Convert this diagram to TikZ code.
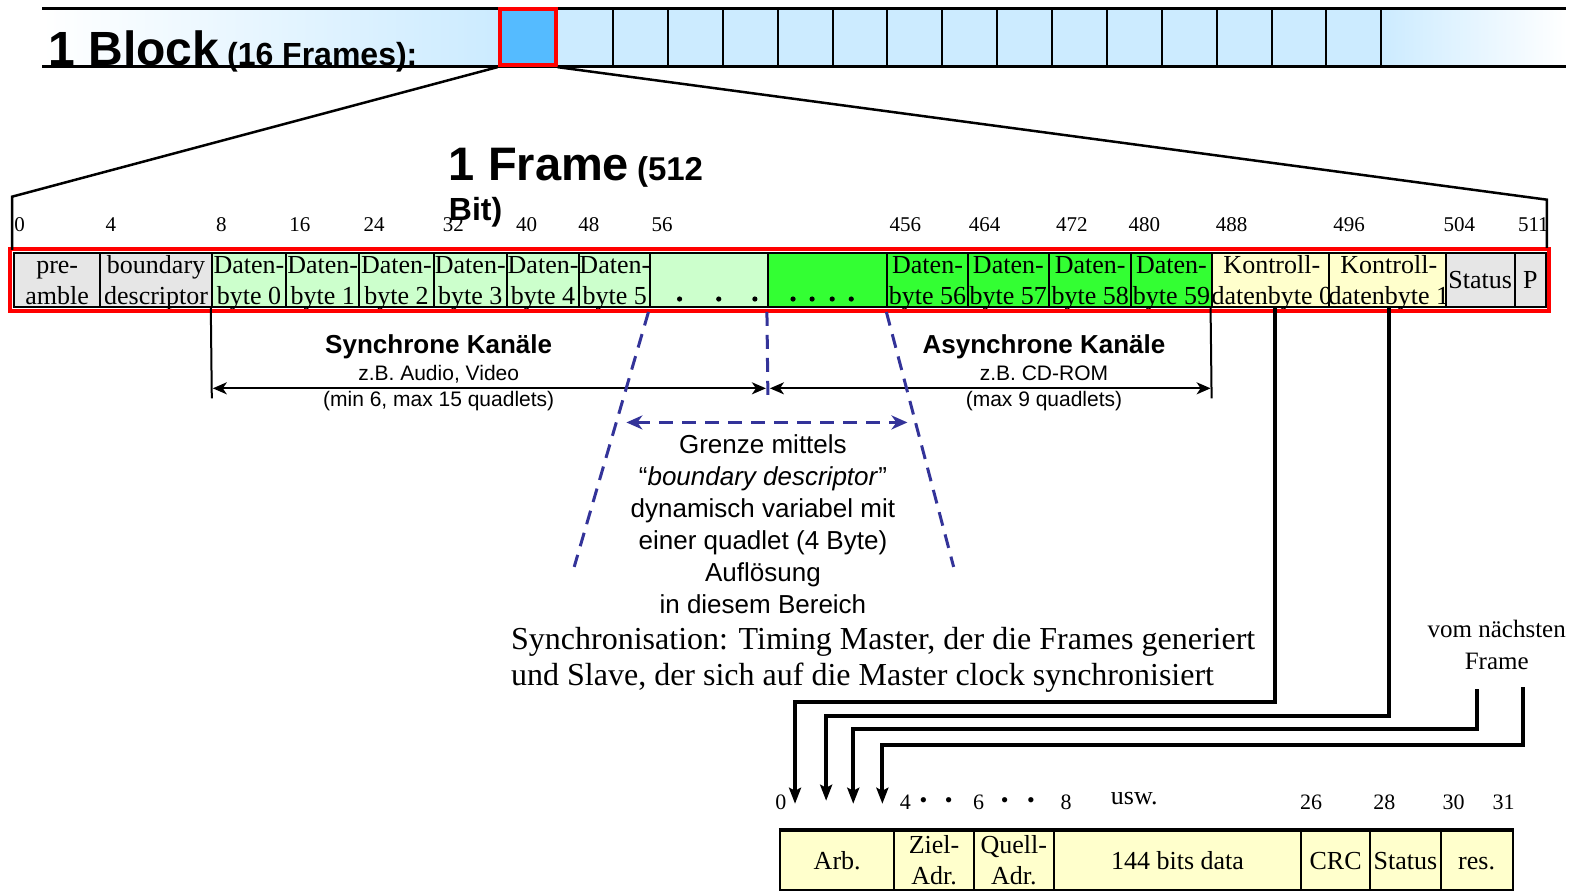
\documentclass[tikz,border=0pt]{standalone}
\usepackage{fontspec}
\setmainfont{Liberation Serif}
\newfontfamily\arial{Liberation Sans}
\usetikzlibrary{arrows.meta,calc}
\definecolor{cgray}{HTML}{E6E6E6}
\definecolor{lgreen}{HTML}{CCFFCC}
\definecolor{bgreen}{HTML}{33FF33}
\definecolor{lyellow}{HTML}{FFFFCC}
\definecolor{blockblue}{HTML}{CCEBFF}
\definecolor{boxblue}{HTML}{55BBFF}
\definecolor{dblue}{HTML}{333399}
\newcommand\fcell[5]{%
  \pgfmathsetmacro\cx{(#2+#3)/2}\pgfmathsetmacro\cw{1.0038*(#3-#2)}%
  \node[fcellstyle, fill=#4, minimum width=\cw pt] (#1) at (\cx,279) {\vphantom{Ab}#5};}
\newcommand\bcell[4]{%
  \pgfmathsetmacro\cx{(#2+#3)/2}\pgfmathsetmacro\cw{1.0038*(#3-#2)}%
  \node[bcellstyle, minimum width=\cw pt] (#1) at (\cx,857.5) {\vphantom{Ab}#4};}
\tikzset{
  fcellstyle/.style={draw=black, line width=2pt, minimum height=54pt, inner sep=0pt, align=center,
    text depth=0pt, font=\fontsize{26}{31}\selectfont},
  bcellstyle/.style={draw=black, line width=2pt, fill=lyellow, minimum height=59pt, inner sep=0pt, align=center,
    text depth=0pt, font=\fontsize{26}{31}\selectfont},
  bitnum/.style={anchor=base west, inner sep=0pt, font=\fontsize{21}{21}\selectfont},
  botnum/.style={inner sep=0pt, font=\fontsize{22}{22}\selectfont},
  bluedash/.style={draw=dblue, line width=3pt, dash pattern=on 14pt off 9pt},
  thickarr/.style={line width=4pt, -{Stealth[length=16pt,width=12pt,inset=3pt]}},
  dimarr/.style={line width=2pt, {Stealth[length=14pt,width=12pt,inset=4pt]}-{Stealth[length=14pt,width=12pt,inset=4pt]}},
}
\begin{document}
\begin{tikzpicture}[x=1.0038pt,y=-1.0034pt]
\useasboundingbox (0,0) rectangle (1568,887);
% ---------- block bar
\shade[left color=white, right color=blockblue] (42,8) rectangle (496,66);
\fill[blockblue] (556,8) rectangle (1376,66);
\shade[left color=blockblue, right color=white] (1376,8) rectangle (1560,66);
\draw[line width=3pt] (42,8) -- (1560,8);
\draw[line width=3pt] (42,66) -- (1560,66);
\foreach \i in {1,...,15}{
  \draw[line width=2pt] ({556+54.67*\i},8) -- ({556+54.67*\i},66);
}
\node[draw=red, line width=4pt, fill=boxblue, minimum width=56pt, minimum height=56pt, inner sep=0pt] (blk) at (525.5,37) {};
\node[anchor=base west, inner sep=0pt] (blocktitle) at (48,65)
  {\arial\bfseries\fontsize{48}{48}\selectfont 1 Block\,{\fontsize{32}{32}\selectfont (16 Frames):}};
% ---------- frame title
\node[anchor=base west, inner sep=0pt] (frametitle) at (447,180)
  {\arial\bfseries\fontsize{47}{47}\selectfont 1 Frame\,{\fontsize{33}{33}\selectfont (512}};
\node[anchor=base west, inner sep=0pt] (frametitle2) at (447,220)
  {\arial\bfseries\fontsize{32}{32}\selectfont Bit)};
% ---------- bit numbers
\foreach \x/\t in {14/0,105/4,215/8,288/16,362/24,441/32,514/40,576/48,649/56,886/456,965/464,1052/472,1124/480,1211/488,1328/496,1438/504,1512/511}{
  \node[bitnum] (bn\t) at (\x,231) {\t};
}
% ---------- frame cells
\fcell{pre}{14}{100}{cgray}{pre-\\amble}
\fcell{bd}{100}{211}{cgray}{boundary\\descriptor}
\fcell{b0}{211}{285}{lgreen}{Daten-\\byte 0}
\fcell{b1}{285}{358}{lgreen}{Daten-\\byte 1}
\fcell{b2}{358}{432}{lgreen}{Daten-\\byte 2}
\fcell{b3}{432}{505}{lgreen}{Daten-\\byte 3}
\fcell{b4}{505}{577}{lgreen}{Daten-\\byte 4}
\fcell{b5}{577}{648}{lgreen}{Daten-\\byte 5}
\fcell{da}{648}{765}{lgreen}{}
\fcell{db}{765}{884}{bgreen}{}
\fcell{b56}{884}{964}{bgreen}{Daten-\\byte 56}
\fcell{b57}{964}{1045}{bgreen}{Daten-\\byte 57}
\fcell{b58}{1045}{1127}{bgreen}{Daten-\\byte 58}
\fcell{b59}{1127}{1207}{bgreen}{Daten-\\byte 59}
\fcell{k0}{1207}{1327}{lyellow}{Kontroll-\\datenbyte 0}
\fcell{k1}{1327}{1440}{lyellow}{Kontroll-\\datenbyte 1}
\fcell{st}{1440}{1509}{cgray}{Status}
\fcell{p}{1509}{1540}{cgray}{P}
\foreach \x in {677,716,752}{\fill (\x,298) circle (2.6pt);}
\foreach \x in {790,809,829,848}{\fill (\x,298) circle (2.6pt);}
\draw[red, line width=4pt] (10,248) rectangle (1543,310);
% ---------- zoom lines
\draw[line width=2.5pt] (blk.south west) -- (12,196) -- (12,249);
\draw[line width=2.5pt] (blk.south east) -- (1541,199) -- (1541,247);
% ---------- channel dimension
\coordinate (sl) at (211,397);
\coordinate (sr) at (1207,397);
\coordinate (ml) at (212,387);
\coordinate (mm1) at (763,387);
\coordinate (mm2) at (767,387);
\coordinate (mr) at (1206,387);
\draw[line width=2pt] (b0.south west) -- (sl);
\draw[line width=2pt] (k0.south west) -- (sr);
\draw[dimarr] (ml) -- (mm1);
\draw[dimarr] (mm2) -- (mr);
\node[font=\arial\bfseries\fontsize{26}{26}\selectfont, inner sep=0pt] (synch) at (437,346) {Synchrone Kanäle};
\node[font=\arial\fontsize{21}{26}\selectfont, inner sep=0pt, align=center] (synchsub) at (437,387) {z.B. Audio, Video\\(min 6, max 15 quadlets)};
\node[font=\arial\bfseries\fontsize{26}{26}\selectfont, inner sep=0pt] (asynch) at (1040,346) {Asynchrone Kanäle};
\node[font=\arial\fontsize{21}{26}\selectfont, inner sep=0pt, align=center] (asynchsub) at (1040,387) {z.B. CD-ROM\\(max 9 quadlets)};
% ---------- blue dashed
\coordinate (dl) at (572,565);
\coordinate (dr) at (950,565);
\coordinate (dv) at (765,398);
\coordinate (hl) at (624,421);
\coordinate (hr) at (904,421);
\draw[bluedash] ($(b5.south east)+(-3,4)$) -- (dl);
\draw[bluedash] ($(b56.south west)+(0,4)$) -- (dr);
\draw[bluedash] ($(db.south west)+(0,4)$) -- (dv);
\draw[bluedash, {Stealth[length=16pt,width=14pt,inset=5pt]}-{Stealth[length=16pt,width=14pt,inset=5pt]}] (hl) -- (hr);
\node[font=\arial\fontsize{26}{32}\selectfont, inner sep=0pt, align=center] (grenze) at (760,522)
  {Grenze mittels\\“\textit{boundary descriptor}”\\dynamisch variabel mit\\einer quadlet (4 Byte)\\Auflösung\\in diesem Bereich};
% ---------- synchronisation text
\node[font=\fontsize{32}{36}\selectfont, inner sep=0pt, align=left, anchor=west] (sync) at (509,658)
  {Synchronisation: Timing Master, der die Frames generiert\\und Slave, der sich auf die Master clock synchronisiert};
\node[font=\fontsize{25}{32}\selectfont, inner sep=0pt, align=center] (vom) at (1491,643) {vom nächsten\\Frame};
% ---------- thick arrows
\coordinate (a1) at (792,700); \coordinate (t1) at (792,801);
\coordinate (a2) at (823,714); \coordinate (t2) at (823,798);
\coordinate (v3) at (1471,687); \coordinate (a3) at (850,727); \coordinate (t3) at (850,801);
\coordinate (v4) at (1517,685); \coordinate (a4) at (879,742); \coordinate (t4) at (879,801);
\draw[thickarr] ($(k0.south)+(3,0)$) |- (a1) -- (t1);
\draw[thickarr] (k1.south) |- (a2) -- (t2);
\draw[thickarr] (v3) |- (a3) -- (t3);
\draw[thickarr] (v4) |- (a4) -- (t4);
% ---------- bottom numbers
\foreach \x/\t/\n in {778/0/n0,902/4/n4,975/6/n6,1062/8/n8,1306/26/n26,1379/28/n28,1448/30/n30,1498/31/n31}{
  \node[botnum] (\n) at (\x,800) {\t};
}
\foreach \x/\n in {920/d1,945/d2,1001/d3,1027/d4}{
  \node[inner sep=0pt, font=\fontsize{22}{22}\selectfont] (\n) at (\x,800) {•};
}
\node[inner sep=0pt, font=\fontsize{26}{26}\selectfont] (usw) at (1130,796) {usw.};
% ---------- bottom table
\bcell{arb}{777}{891}{Arb.}
\bcell{ziel}{891}{970}{Ziel-\\Adr.}
\bcell{quell}{970}{1050}{Quell-\\Adr.}
\bcell{data}{1050}{1296}{144 bits data}
\bcell{crc}{1296}{1365}{CRC}
\bcell{bst}{1365}{1435}{Status}
\bcell{res}{1435}{1507}{res.}
\draw[line width=3.5pt] (arb.north west) -- (res.north east);
\end{tikzpicture}
\end{document}
